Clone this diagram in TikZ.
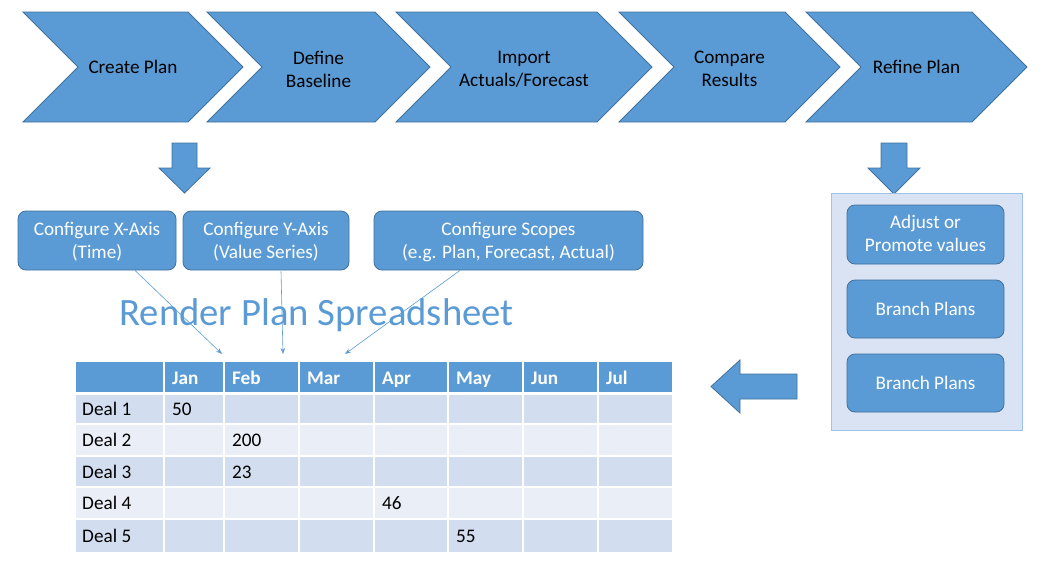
\documentclass[tikz,border=0pt]{standalone}
\usepackage{fontspec}
\setmainfont{Carlito}
\usetikzlibrary{arrows.meta,calc}
\definecolor{ob}{HTML}{5B9BD5}
\definecolor{obd}{HTML}{41719C}
\definecolor{panelfill}{HTML}{DAE3F3}
\definecolor{panelline}{HTML}{9DC3E6}
\definecolor{rowa}{HTML}{D2DEEF}
\definecolor{rowb}{HTML}{EAEFF7}
\newcommand{\chevron}[2]{%
  \path[chevshape] (#1,12) -- (#2-55,12) -- (#2,67) -- (#2-55,122) -- (#1,122) -- (#1+55,67) -- cycle;}
\newcommand{\lowertext}[2]{\raisebox{-#1}[\height][\depth]{\begin{tabular}{@{}c@{}}#2\end{tabular}}}
\begin{document}
\begin{tikzpicture}[x=1pt,y=-1pt,
  chevshape/.style={fill=ob,draw=obd,line width=0.8pt,line join=miter},
  chevtext/.style={font=\fontsize{19.2}{23}\selectfont,align=center,text=black,inner sep=0pt},
  bbox/.style={rectangle,rounded corners=8pt,fill=ob,draw=obd,line width=0.8pt,text=white,align=center,font=\fontsize{19.2}{23}\selectfont,inner sep=0pt},
  panelbox/.style={rectangle,fill=panelfill,draw=panelline,line width=1pt,inner sep=0pt},
  blockarrow/.style={fill=ob,draw=obd,line width=0.8pt,line join=miter},
  thinarr/.style={draw=ob,line width=0.6pt,-{Stealth[length=6pt,width=4.5pt]}},
  cell/.style={anchor=base west,font=\fontsize{19.2}{23}\selectfont,inner sep=0pt,text=black},
  hcell/.style={anchor=base west,font=\bfseries\fontsize{19.2}{23}\selectfont,inner sep=0pt,text=white}]
\useasboundingbox (0,0) rectangle (1043,563);
% chevrons
\chevron{23}{243}
\chevron{207}{430}
\chevron{396}{652}
\chevron{619}{840}
\chevron{806}{1027}
\node[chevtext] (c1) at (133,67) {Create Plan};
\node[chevtext] (c2) at (318.5,69) {Define\\Baseline};
\node[chevtext] (c3) at (524,69.5) {Import\\Actuals/Forecast};
\node[chevtext] (c4) at (729.5,69) {Compare\\Results};
\node[chevtext] (c5) at (916.5,67) {Refine Plan};
% block arrows
\path[blockarrow] (172,143) -- (197,143) -- (197,168) -- (210,168) -- (184.5,193) -- (159,168) -- (172,168) -- cycle;
\path[blockarrow] (881,143) -- (907,143) -- (907,168) -- (920,168) -- (894,194) -- (868,168) -- (881,168) -- cycle;
\path[blockarrow] (797,374) -- (797,399) -- (740,399) -- (740,413) -- (711,386.5) -- (740,360) -- (740,374) -- cycle;
% config boxes
\node[bbox,minimum width=158pt,minimum height=59pt] (b1) at (97,240.5) {\lowertext{2pt}{Configure X-Axis\\(Time)}};
\node[bbox,minimum width=166pt,minimum height=59pt] (b2) at (266,240.5) {\lowertext{2pt}{Configure Y-Axis\\(Value Series)}};
\node[bbox,minimum width=269pt,minimum height=59pt] (b3) at (508.5,240.5) {\lowertext{2pt}{Configure Scopes\\(e.g. Plan, Forecast, Actual)}};
% right panel
\node[panelbox,minimum width=191pt,minimum height=237pt] (panel) at (926.5,312) {};
\node[bbox,minimum width=157pt,minimum height=59pt] (p1) at (925.5,234.5) {\lowertext{1pt}{Adjust or\\Promote values}};
\node[bbox,minimum width=157pt,minimum height=58pt] (p2) at (925.5,309) {Branch Plans};
\node[bbox,minimum width=157pt,minimum height=58pt] (p3) at (925.5,383) {Branch Plans};
% title
\node[font=\fontsize{38.7}{40}\selectfont,text=ob,inner sep=0pt] (title) at (316.5,315) {Render Plan Spreadsheet};
% thin arrows
\coordinate (t1) at (222,354);
\coordinate (t2) at (283,354);
\coordinate (t3) at (345,354);
\draw[thinarr] ([xshift=38pt]b1.south) -- (t1);
\draw[thinarr] ([xshift=15pt,yshift=-1pt]b2.south) -- (t2);
\draw[thinarr] ([xshift=-48.5pt]b3.south) -- (t3);
% table
\fill[ob] (76,362) rectangle (672,393);
\fill[rowa] (76,393) rectangle (672,424);
\fill[rowb] (76,424) rectangle (672,456);
\fill[rowa] (76,456) rectangle (672,487);
\fill[rowb] (76,487) rectangle (672,519);
\fill[rowa] (76,519) rectangle (672,552);
\foreach \y in {424,456,487,519} \draw[white,line width=2pt] (76,\y) -- (672,\y);
\draw[white,line width=3pt] (76,393) -- (672,393);
\foreach \x in {164,224,299,374,448,523,598} \draw[white,line width=2pt] (\x,362) -- (\x,552);
\node[hcell] (hjan) at (172,384) {Jan};
\node[hcell] (hfeb) at (232,384) {Feb};
\node[hcell] (hmar) at (307,384) {Mar};
\node[hcell] (hapr) at (382,384) {Apr};
\node[hcell] (hmay) at (456,384) {May};
\node[hcell] (hjun) at (531,384) {Jun};
\node[hcell] (hjul) at (606,384) {Jul};
\node[cell] (d1) at (82,415) {Deal 1};
\node[cell] (d2) at (82,446.5) {Deal 2};
\node[cell] (d3) at (82,478) {Deal 3};
\node[cell] (d4) at (82,509.5) {Deal 4};
\node[cell] (d5) at (82,542) {Deal 5};
\node[cell] (v1) at (172,415) {50};
\node[cell] (v2) at (232,446.5) {200};
\node[cell] (v3) at (232,478) {23};
\node[cell] (v4) at (382,509.5) {46};
\node[cell] (v5) at (456,542) {55};
\end{tikzpicture}
\end{document}
